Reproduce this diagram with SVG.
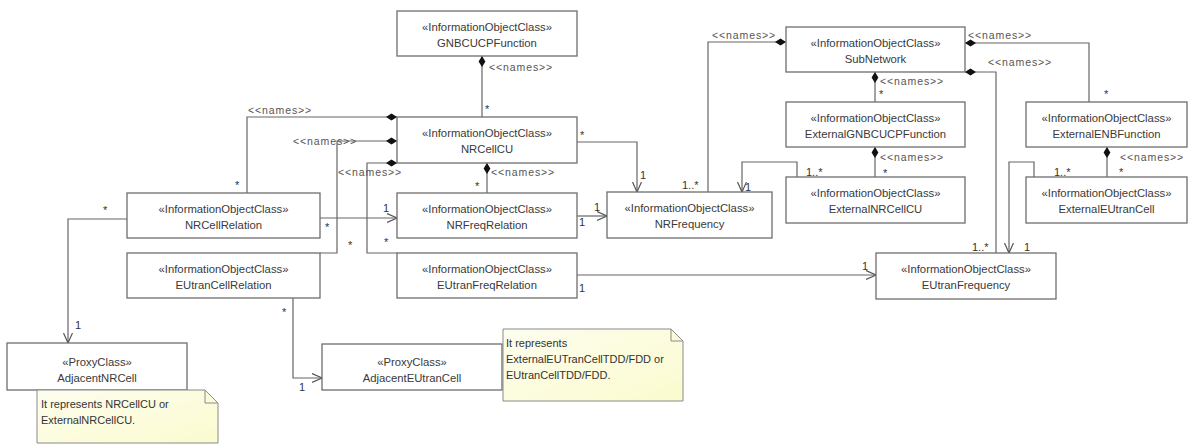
<svg xmlns="http://www.w3.org/2000/svg" width="1190" height="445" viewBox="0 0 1190 445">
<defs>
<marker id="dia" markerWidth="12" markerHeight="8" refX="0" refY="4" orient="auto" markerUnits="userSpaceOnUse"><path d="M0,4 L5.5,0.6 L11,4 L5.5,7.4 z" fill="#111"/></marker>
<marker id="arr" markerWidth="11" markerHeight="11" refX="10" refY="5" orient="auto" markerUnits="userSpaceOnUse"><path d="M0,0.5 L10,5 L0,9.5" fill="none" stroke="#555" stroke-width="1.2"/></marker>
<linearGradient id="ng" x1="0" y1="0" x2="1" y2="1"><stop offset="0" stop-color="#fdfdee"/><stop offset="1" stop-color="#fbfbcf"/></linearGradient>
<style>
.box{fill:#fff;stroke:#6e6e6e;stroke-width:1.3}
.t{font-family:"Liberation Sans",Arial,sans-serif;font-size:11.3px;fill:#3a3a3a;text-anchor:middle}
.l{font-family:"Liberation Sans",Arial,sans-serif;font-size:10.5px;fill:#555;letter-spacing:0.9px}
.m{font-family:"Liberation Sans",Arial,sans-serif;font-size:11px;fill:#333}
.c{fill:none;stroke:#666;stroke-width:1.2}
.comp{marker-start:url(#dia)}
.asc{marker-end:url(#arr)}
.note{fill:url(#ng);stroke:#8a8a8a;stroke-width:1}
.nt{font-family:"Liberation Sans",Arial,sans-serif;font-size:11px;fill:#333}
</style>
</defs>
<rect width="1190" height="445" fill="#fff"/>

<g id="connectors">
<path class="c comp" d="M482,56 V117"/>
<path class="c comp" d="M397,117 H247 V193"/>
<path class="c comp" d="M397,141 H337 V253 H320"/>
<path class="c comp" d="M397,163 H367 V253 H397"/>
<path class="c comp" d="M487,163 V193"/>
<path class="c comp" d="M786,42 H708 V192"/>
<path class="c comp" d="M875,72 V102"/>
<path class="c comp" d="M875,147 V177"/>
<path class="c comp" d="M965,43 H1089 V102"/>
<path class="c comp" d="M965,72 H996 V253"/>
<path class="c comp" d="M1107,147 V177"/>

<path class="c asc" d="M127,219 H68 V343"/>
<path class="c asc" d="M293,298 V378 H322"/>
<path class="c asc" d="M320,218 H397"/>
<path class="c asc" d="M577,216 H607"/>
<path class="c asc" d="M577,142 H637 V192"/>
<path class="c asc" d="M797,177 V162 H742 V192"/>
<path class="c asc" d="M1034,177 V162 H1009 V253"/>
<path class="c asc" d="M577,275 H876"/>

<text class="l" x="489" y="71">&lt;&lt;names&gt;&gt;</text>
<text class="m" x="485" y="113">*</text>
<text class="l" x="248" y="114">&lt;&lt;names&gt;&gt;</text>
<text class="m" x="235" y="189">*</text>
<text class="l" x="293" y="145">&lt;&lt;names&gt;&gt;</text>
<text class="m" x="348" y="249">*</text>
<text class="l" x="338" y="176">&lt;&lt;names&gt;&gt;</text>
<text class="m" x="384" y="246">*</text>
<text class="l" x="491" y="176">&lt;&lt;names&gt;&gt;</text>
<text class="m" x="475" y="190">*</text>
<text class="l" x="712" y="39">&lt;&lt;names&gt;&gt;</text>
<text class="m" x="682" y="189">1..*</text>
<text class="l" x="880" y="85">&lt;&lt;names&gt;&gt;</text>
<text class="m" x="879" y="98">*</text>
<text class="l" x="880" y="161">&lt;&lt;names&gt;&gt;</text>
<text class="m" x="883" y="177">*</text>
<text class="l" x="968" y="39">&lt;&lt;names&gt;&gt;</text>
<text class="m" x="1104" y="98">*</text>
<text class="l" x="988" y="66">&lt;&lt;names&gt;&gt;</text>
<text class="m" x="972" y="251">1..*</text>
<text class="l" x="1120" y="161">&lt;&lt;names&gt;&gt;</text>
<text class="m" x="1119" y="176">*</text>

<text class="m" x="103" y="214">*</text>
<text class="m" x="75" y="329">1</text>
<text class="m" x="282" y="316">*</text>
<text class="m" x="299" y="391">1</text>
<text class="m" x="325" y="231">*</text>
<text class="m" x="383" y="212">1</text>
<text class="m" x="579" y="226">1</text>
<text class="m" x="594" y="211">1</text>
<text class="m" x="580" y="139">*</text>
<text class="m" x="640" y="179">1</text>
<text class="m" x="806" y="176">1..*</text>
<text class="m" x="745" y="191">1</text>
<text class="m" x="1054" y="176">1..*</text>
<text class="m" x="1024" y="251">1</text>
<text class="m" x="579" y="292">1</text>
<text class="m" x="862" y="270">1</text>
</g>

<g id="GNBCUCPFunction"><rect class="box" x="397" y="11" width="180" height="45"/><text class="t" x="487" y="31">«InformationObjectClass»</text><text class="t" x="487" y="47">GNBCUCPFunction</text></g>
<g id="NRCellCU"><rect class="box" x="397" y="117" width="180" height="46"/><text class="t" x="487" y="137">«InformationObjectClass»</text><text class="t" x="487" y="153">NRCellCU</text></g>
<g id="NRCellRelation"><rect class="box" x="127" y="193" width="193" height="45"/><text class="t" x="223.5" y="213">«InformationObjectClass»</text><text class="t" x="223.5" y="229">NRCellRelation</text></g>
<g id="EUtranCellRelation"><rect class="box" x="127" y="253" width="193" height="45"/><text class="t" x="223.5" y="273">«InformationObjectClass»</text><text class="t" x="223.5" y="289">EUtranCellRelation</text></g>
<g id="NRFreqRelation"><rect class="box" x="397" y="193" width="180" height="45"/><text class="t" x="487" y="213">«InformationObjectClass»</text><text class="t" x="487" y="229">NRFreqRelation</text></g>
<g id="EUtranFreqRelation"><rect class="box" x="397" y="253" width="180" height="45"/><text class="t" x="487" y="273">«InformationObjectClass»</text><text class="t" x="487" y="289">EUtranFreqRelation</text></g>
<g id="NRFrequency"><rect class="box" x="607" y="192" width="165" height="46"/><text class="t" x="689.5" y="212">«InformationObjectClass»</text><text class="t" x="689.5" y="228">NRFrequency</text></g>
<g id="SubNetwork"><rect class="box" x="786" y="27" width="179" height="45"/><text class="t" x="875.5" y="47">«InformationObjectClass»</text><text class="t" x="875.5" y="63">SubNetwork</text></g>
<g id="ExternalGNBCUCPFunction"><rect class="box" x="786" y="102" width="179" height="45"/><text class="t" x="875.5" y="122">«InformationObjectClass»</text><text class="t" x="875.5" y="138">ExternalGNBCUCPFunction</text></g>
<g id="ExternalNRCellCU"><rect class="box" x="786" y="177" width="179" height="46"/><text class="t" x="875.5" y="197">«InformationObjectClass»</text><text class="t" x="875.5" y="213">ExternalNRCellCU</text></g>
<g id="ExternalENBFunction"><rect class="box" x="1026" y="102" width="161" height="45"/><text class="t" x="1106.5" y="122">«InformationObjectClass»</text><text class="t" x="1106.5" y="138">ExternalENBFunction</text></g>
<g id="ExternalEUtranCell"><rect class="box" x="1026" y="177" width="161" height="46"/><text class="t" x="1106.5" y="197">«InformationObjectClass»</text><text class="t" x="1106.5" y="213">ExternalEUtranCell</text></g>
<g id="EUtranFrequency"><rect class="box" x="876" y="253" width="180" height="46"/><text class="t" x="966" y="273">«InformationObjectClass»</text><text class="t" x="966" y="289">EUtranFrequency</text></g>
<g id="AdjacentNRCell"><rect class="box" x="7" y="343" width="180" height="47"/><text class="t" x="97" y="366">«ProxyClass»</text><text class="t" x="97" y="382">AdjacentNRCell</text></g>
<g id="AdjacentEUtranCell"><rect class="box" x="322" y="344" width="180" height="46"/><text class="t" x="412" y="366">«ProxyClass»</text><text class="t" x="412" y="382">AdjacentEUtranCell</text></g>

<g id="note1"><path class="note" d="M37,390 H205 L218,403 V443 H37 Z"/><path d="M205,390 V403 H218" fill="none" stroke="#8a8a8a"/><text class="nt" x="41" y="408">It represents NRCellCU or</text><text class="nt" x="41" y="424">ExternalNRCellCU.</text></g>
<g id="note2"><path class="note" d="M503,329 H671 L683,341 V401 H503 Z"/><path d="M671,329 V341 H683" fill="none" stroke="#8a8a8a"/><text class="nt" x="506" y="347">It represents</text><text class="nt" x="506" y="363">ExternalEUTranCellTDD/FDD or</text><text class="nt" x="506" y="379">EUtranCellTDD/FDD.</text></g>
</svg>
